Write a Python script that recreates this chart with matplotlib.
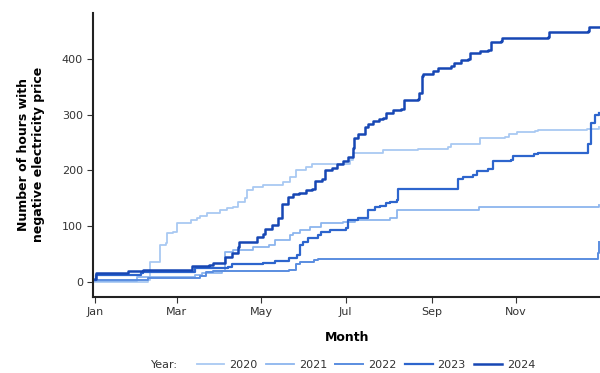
import numpy as np
import pandas as pd
import matplotlib
matplotlib.use('Agg')
import matplotlib.pyplot as plt
import matplotlib.dates as mdates

# cumulative hours with negative price as (day of year, value) steps
days_2020 = [0, 38, 40, 47, 51, 52, 56, 59, 69, 74, 76, 81, 90, 95, 100, 103, 108, 110,
             114, 121, 136, 141, 145, 152, 157, 184, 186, 208, 233, 255, 257, 275, 278,
             296, 299, 305, 318, 320, 355, 364]
vals_2020 = [0, 3, 35, 66, 69, 87, 89, 105, 110, 114, 118, 123, 128, 132, 134, 143, 150, 164,
             170, 174, 179, 188, 200, 206, 212, 218, 231, 236, 239, 242, 247, 248, 258,
             259, 265, 268, 270, 273, 275, 278]

days_2021 = [0, 30, 72, 77, 92, 94, 100, 114, 126, 130, 141, 143, 148, 155, 163, 179,
             188, 213, 218, 276, 277, 364]
vals_2021 = [2, 8, 12, 15, 19, 53, 57, 62, 66, 75, 83, 88, 92, 98, 105, 108,
             110, 115, 128, 128, 134, 138]

days_2022 = [0, 38, 76, 80, 85, 140, 145, 148, 158, 161, 240, 362, 363, 364]
vals_2022 = [3, 6, 10, 17, 19, 21, 31, 35, 39, 40, 41, 41, 51, 71]

days_2023 = [0, 1, 33, 35, 72, 96, 99, 121, 130, 140, 146, 148, 150, 154, 161, 163, 170,
             181, 183, 190, 197, 202, 206, 210, 213, 218, 219, 262, 266, 273, 276, 284,
             287, 300, 302, 317, 320, 355, 356, 358, 361, 364]
vals_2023 = [3, 12, 15, 17, 24, 26, 31, 34, 37, 42, 48, 66, 71, 78, 84, 89, 93,
             96, 110, 114, 128, 134, 136, 141, 143, 146, 167, 185, 188, 191, 198, 202,
             217, 219, 225, 229, 231, 231, 248, 285, 299, 303]

days_2024 = [0, 1, 24, 35, 70, 82, 85, 94, 99, 103, 104, 117, 121, 123, 128, 132, 135,
             139, 143, 147, 152, 157, 159, 164, 166, 171, 175, 179, 183, 186, 187, 190,
             195, 197, 201, 205, 208, 210, 215, 221, 223, 233, 234, 236, 237, 244, 248,
             257, 259, 264, 269, 271, 278, 284, 286, 293, 294, 327, 328, 356, 357, 364]
vals_2024 = [5, 15, 19, 21, 28, 30, 34, 44, 51, 62, 71, 80, 86, 95, 101, 115, 140,
             152, 158, 160, 165, 167, 181, 185, 200, 204, 211, 217, 224, 240, 258, 265,
             278, 283, 288, 292, 294, 303, 308, 310, 326, 328, 339, 369, 373, 378, 383,
             387, 392, 398, 400, 410, 414, 416, 430, 432, 437, 439, 448, 450, 457, 457]

years = ["2020", "2021", "2022", "2023", "2024"]
series = [(days_2020, vals_2020), (days_2021, vals_2021), (days_2022, vals_2022),
          (days_2023, vals_2023), (days_2024, vals_2024)]
colors = ["#a9c9f2", "#8cb5ee", "#5a8de0", "#2d65cd", "#1747b4"]
widths = [1.3, 1.3, 1.4, 1.6, 1.8]

start = pd.Timestamp("2023-01-01")

fig = plt.figure(figsize=(6, 3.73), dpi=100)
ax = fig.add_axes([0.1555, 0.2046, 0.8445, 0.7614])

for yr, (d, v), c, w in zip(years, series, colors, widths):
    x = start + pd.to_timedelta(d, unit="D")
    ax.plot(x, v, drawstyle="steps-post", color=c, lw=w, label=yr)

ax.set_xlim(start - pd.Timedelta(days=1.2), start + pd.Timedelta(days=364.6))
ax.set_ylim(-27, 483)
ax.set_yticks([0, 100, 200, 300, 400])
ax.xaxis.set_major_locator(mdates.MonthLocator(bymonth=[1, 3, 5, 7, 9, 11]))
ax.xaxis.set_major_formatter(mdates.DateFormatter("%b"))

for s in ["top", "right"]:
    ax.spines[s].set_visible(False)
for s in ["left", "bottom"]:
    ax.spines[s].set_linewidth(1.5)
    ax.spines[s].set_color("#222222")
ax.tick_params(labelsize=8, colors="#333333", length=4, width=0.8)

ax.set_xlabel("Month", fontsize=9, fontweight="bold", labelpad=10)
ax.set_ylabel("Number of hours with\nnegative electricity price", fontsize=9,
              fontweight="bold", labelpad=12)

fig.text(0.252, 1 - 365 / 373, "Year:", fontsize=8, color="#333333",
         ha="left", va="center")
fig.legend(loc="center", bbox_to_anchor=(0.61, 1 - 365 / 373), ncol=5,
           frameon=False, fontsize=8, handlelength=2.5, handletextpad=0.45,
           columnspacing=0.75, labelcolor="#333333")

plt.savefig("out.png", dpi=100)
